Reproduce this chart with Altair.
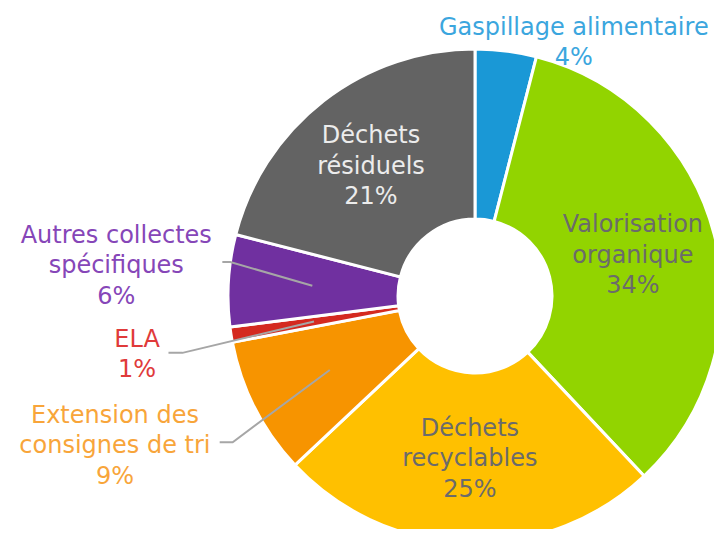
import math
import altair as alt
import pandas as pd

# ---- data ----
categories = ["Gaspillage alimentaire", "Valorisation organique", "Déchets recyclables",
              "Extension des consignes de tri", "ELA", "Autres collectes spécifiques",
              "Déchets résiduels"]
values = [4, 34, 25, 9, 1, 6, 21]
label_lines = [["Gaspillage alimentaire"], ["Valorisation", "organique"], ["Déchets", "recyclables"],
               ["Extension des", "consignes de tri"], ["ELA"], ["Autres collectes", "spécifiques"],
               ["Déchets", "résiduels"]]
slice_colors = ["#1a98d6", "#92d400", "#ffc000", "#f79400", "#d42a20", "#7030a0", "#636363"]
text_colors = ["#3ba6de", "#6b6b6b", "#6b6b6b", "#f8a53a", "#e03a3a", "#8646b8", "#ececec"]

# ---- layout ----
CX, CY = 467, 288
R_OUT, R_IN = 247, 77
FS, LH = 24, 30.5
FONT = "DejaVu Sans"
# label placement: (angle offset from slice middle in degrees, radius)
label_place = {
    "Gaspillage alimentaire": (14.1, 272),
    "Valorisation organique": (0, 163),
    "Déchets recyclables": (0, 163),
    "Extension des consignes de tri": (4.4, 390),
    "ELA": (-0.9, 343),
    "Autres collectes spécifiques": (1.2, 360),
    "Déchets résiduels": (-1.0, 166),
}
# leader lines: (elbow angle offset, elbow radius, horizontal length)
leader_place = {
    "Autres collectes spécifiques": (4.3, 247, 8),
    "ELA": (-2.0, 298, 14),
    "Extension des consignes de tri": (-4.1, 283, 13),
}

total = sum(values)
df = pd.DataFrame({"category": categories, "value": values, "idx": list(range(len(values)))})
df["color"] = slice_colors

mids = []
cum = 0
for v in values:
    mids.append((cum + v / 2) / total * 360)
    cum += v


def polar(angle_deg, r):
    a = math.radians(angle_deg)
    return CX + r * math.sin(a), CY - r * math.cos(a)


rows = []
for cat, v, lines, tc, mid in zip(categories, values, label_lines, text_colors, mids):
    off, r = label_place[cat]
    x, y = polar(mid + off, r)
    n = len(lines) + 1
    rows.append({"label": "\n".join(lines + [f"{v}%"]), "x": x,
                 "y": y - (n - 1) * LH / 2 + 0.3 * FS, "tcolor": tc})
labels_df = pd.DataFrame(rows)

lrows = []
for cat, mid in zip(categories, mids):
    if cat not in leader_place:
        continue
    off, r, h = leader_place[cat]
    x0, y0 = polar(mid, 163)
    x1, y1 = polar(mid + off, r)
    lrows += [{"grp": cat, "ord": 0, "x": x0, "y": y0},
              {"grp": cat, "ord": 1, "x": x1, "y": y1},
              {"grp": cat, "ord": 2, "x": x1 - h, "y": y1}]
leaders_df = pd.DataFrame(lrows)

arcs = alt.Chart(df).mark_arc(innerRadius=R_IN, outerRadius=R_OUT, stroke="white", strokeWidth=3).encode(
    theta=alt.Theta("value:Q", stack=True),
    order=alt.Order("idx:Q", sort="ascending"),
    color=alt.Color("color:N", scale=None),
    x=alt.value(CX),
    y=alt.value(CY),
)

leaders = alt.Chart(leaders_df).mark_line(color="#a6a6a6", strokeWidth=2).encode(
    x=alt.X("x:Q", scale=None, axis=None),
    y=alt.Y("y:Q", scale=None, axis=None),
    detail="grp:N",
    order="ord:Q",
)

texts = alt.Chart(labels_df).mark_text(
    font=FONT, fontSize=FS, lineHeight=LH, lineBreak="\n", align="center", baseline="alphabetic"
).encode(
    x=alt.X("x:Q", scale=None, axis=None),
    y=alt.Y("y:Q", scale=None, axis=None),
    text="label:N",
    fill=alt.Fill("tcolor:N", scale=None),
)

chart = alt.layer(arcs, leaders, texts).properties(
    width=706, height=521, padding=0, autosize=alt.AutoSizeParams(type="none"),
    background="white",
).configure_view(stroke=None)

chart.save("out.html", embed_options={"renderer": "svg", "actions": False})
